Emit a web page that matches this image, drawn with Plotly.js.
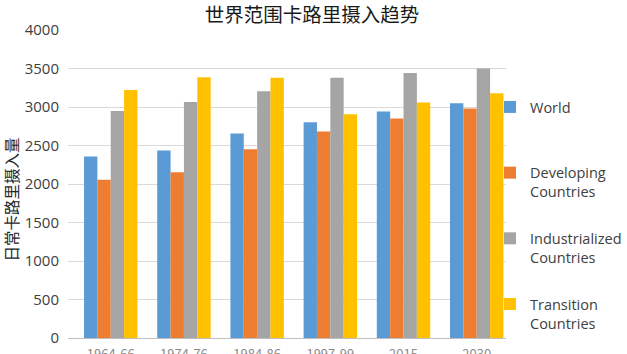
<!DOCTYPE html>
<html><head><meta charset="utf-8">
<script src="https://cdn.plot.ly/plotly-3.0.1.min.js"></script>
<style>html,body{margin:0;padding:0;background:#fff}#chart{width:627px;height:354px}</style>
</head><body><div id="chart"></div>
<script>
var categories = ["1964-66", "1974-76", "1984-86", "1997-99", "2015", "2030"];
var world = [2358, 2435, 2655, 2803, 2940, 3050];
var developing = [2054, 2152, 2450, 2681, 2850, 2980];
var industrialized = [2947, 3065, 3206, 3380, 3440, 3500];
var transition = [3222, 3385, 3379, 2906, 3060, 3180];
var seriesNames = ["World<br>\u00a0", "Developing<br>Countries", "Industrialized<br>Countries", "Transition<br>Countries"];
var colors = ["#5B9BD5", "#ED7D31", "#A5A5A5", "#FFC000"];
var values = [world, developing, industrialized, transition];

var traces = values.map(function(v, i){
  return {type:"bar", x:categories, y:v, name:seriesNames[i], legendgroup:"g"+i,
    marker:{color:colors[i]}, hoverinfo:"y"};
});
var layout = {
  width:627, height:354,
  margin:{l:68, r:121, t:30, b:16, autoexpand:false},
  paper_bgcolor:"#fff", plot_bgcolor:"#fff",
  font:{family:"'Noto Sans CJK SC', 'Noto Sans', sans-serif", color:"#404040", size:13},
  title:{text:"世界范围卡路里摄入趋势", x:312/627, xref:"container", xanchor:"center", y:1-15/354, yanchor:"middle",
    font:{size:19.5, color:"#1a1a1a", family:"'Noto Sans CJK SC', sans-serif"}},
  barmode:"group", bargap:0.27, bargroupgap:0,
  xaxis:{type:"category", range:[-0.584, 5.4], showgrid:false, showline:true, linecolor:"#bfbfbf", linewidth:1,
    ticks:"", tickfont:{size:13, color:"#8c8c8c"}, ticklabelstandoff:4, automargin:false},
  yaxis:{range:[0,4000], dtick:500, showgrid:true, gridcolor:"#d9d9d9", gridwidth:1,
    zeroline:false, ticks:"", tickfont:{size:15, color:"#404040", family:"'Open Sans', sans-serif"},
    ticklabelstandoff:8, automargin:false,
    title:{text:"日常卡路里摄入量\u3000\u3000\u200b", standoff:19, font:{size:15.5, color:"#262626"}}},
  legend:{x:(490-68)/438, xanchor:"left", y:(338-91)/308, yanchor:"top", valign:"top",
    tracegroupgap:25, itemwidth:30, font:{size:14.5, color:"#404040", family:"'Open Sans', sans-serif"},
    bgcolor:"rgba(0,0,0,0)"},
  showlegend:true
};
Plotly.newPlot("chart", traces, layout, {displayModeBar:false, staticPlot:true});
</script></body></html>
